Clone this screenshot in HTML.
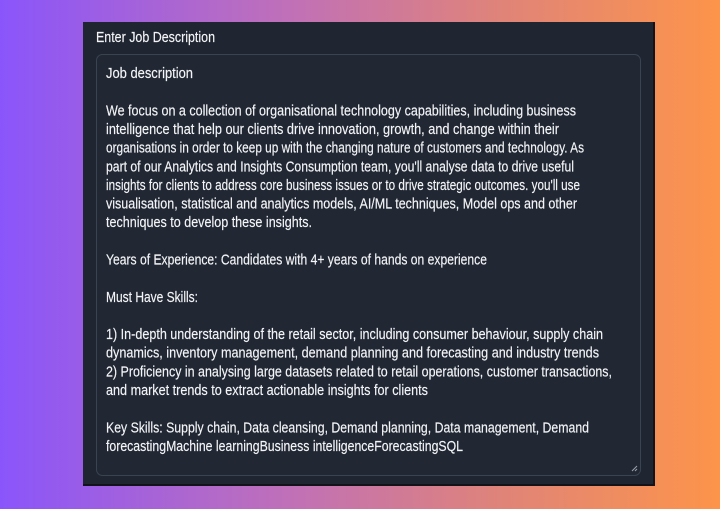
<!DOCTYPE html>
<html><head><meta charset="utf-8"><style>
html,body{margin:0;padding:0;width:720px;height:509px;overflow:hidden}
body{background:linear-gradient(90deg,#8a55fb 0%,#c070b8 40%,#e08478 70%,#fd944a 100%)}
svg{position:absolute;left:0;top:0}
text{font-family:"Liberation Sans",sans-serif;font-size:14.5px;fill:#f4f5f7;stroke:#f4f5f7;stroke-width:0.15px}
</style></head><body>
<svg width="720" height="509" viewBox="0 0 720 509">
<rect x="83" y="22" width="572" height="464" fill="#1f2631"/>
<rect x="653" y="22" width="2" height="464" fill="#111319"/>
<rect x="83" y="484" width="572" height="2" fill="#111319"/>
<rect x="96.5" y="54.5" width="544" height="421" rx="6" fill="#212834" stroke="#3a4351"/>
<path d="M632 471L637 466M635 471L637 469" stroke="#9aa0a8" stroke-width="1"/>
<text x="96" y="42" textLength="119" lengthAdjust="spacingAndGlyphs">Enter Job Description</text>
<text x="106" y="78" textLength="87" lengthAdjust="spacingAndGlyphs">Job description</text>
<text x="106" y="115.3" textLength="470" lengthAdjust="spacingAndGlyphs">We focus on a collection of organisational technology capabilities, including business</text>
<text x="106" y="134" textLength="453" lengthAdjust="spacingAndGlyphs">intelligence that help our clients drive innovation, growth, and change within their</text>
<text x="106" y="152.6" textLength="478" lengthAdjust="spacingAndGlyphs">organisations in order to keep up with the changing nature of customers and technology. As</text>
<text x="106" y="171.3" textLength="468" lengthAdjust="spacingAndGlyphs">part of our Analytics and Insights Consumption team, you'll analyse data to drive useful</text>
<text x="106" y="189.9" textLength="474" lengthAdjust="spacingAndGlyphs">insights for clients to address core business issues or to drive strategic outcomes. you'll use</text>
<text x="106" y="208.6" textLength="471" lengthAdjust="spacingAndGlyphs">visualisation, statistical and analytics models, AI/ML techniques, Model ops and other</text>
<text x="106" y="227.2" textLength="206" lengthAdjust="spacingAndGlyphs">techniques to develop these insights.</text>
<text x="106" y="264.5" textLength="381" lengthAdjust="spacingAndGlyphs">Years of Experience: Candidates with 4+ years of hands on experience</text>
<text x="106" y="301.8" textLength="92" lengthAdjust="spacingAndGlyphs">Must Have Skills:</text>
<text x="106" y="339.1" textLength="497" lengthAdjust="spacingAndGlyphs">1) In-depth understanding of the retail sector, including consumer behaviour, supply chain</text>
<text x="106" y="357.7" textLength="493" lengthAdjust="spacingAndGlyphs">dynamics, inventory management, demand planning and forecasting and industry trends</text>
<text x="106" y="376.4" textLength="506" lengthAdjust="spacingAndGlyphs">2) Proficiency in analysing large datasets related to retail operations, customer transactions,</text>
<text x="106" y="395" textLength="322" lengthAdjust="spacingAndGlyphs">and market trends to extract actionable insights for clients</text>
<text x="106" y="432.3" textLength="483" lengthAdjust="spacingAndGlyphs">Key Skills: Supply chain, Data cleansing, Demand planning, Data management, Demand</text>
<text x="106" y="451" textLength="357" lengthAdjust="spacingAndGlyphs">forecastingMachine learningBusiness intelligenceForecastingSQL</text>
</svg>
</body></html>
